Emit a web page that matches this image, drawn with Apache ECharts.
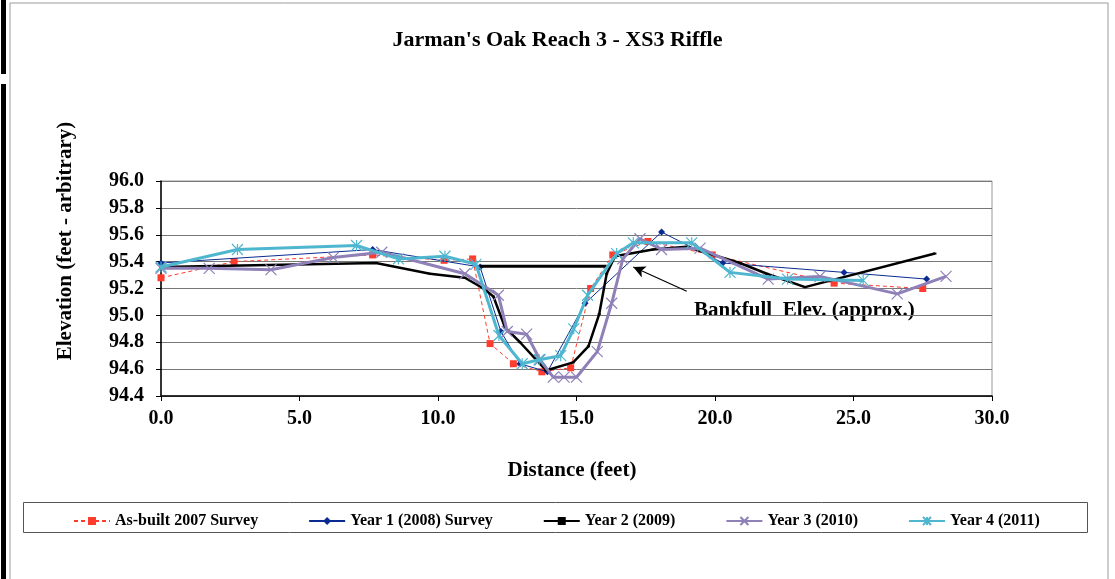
<!DOCTYPE html>
<html>
<head>
<meta charset="utf-8">
<script src="https://cdn.jsdelivr.net/npm/echarts@6/dist/echarts.min.js"></script>
<style>
  html, body { margin: 0; padding: 0; background: #fff; }
  #chart { width: 1115px; height: 579px; }
</style>
</head>
<body>
<div id="chart"></div>
<script>
// survey data (distance in feet, elevation in feet - arbitrary)
const asBuiltX = [0, 2.64, 7.64, 10.22, 11.25, 11.88, 12.72, 13.75, 14.79, 15.51, 16.31, 17.58, 19.9, 24.3, 27.5]
const asBuiltY = [95.28, 95.40, 95.45, 95.41, 95.42, 94.79, 94.64, 94.58, 94.61, 95.20, 95.45, 95.55, 95.45, 95.24, 95.20]

const year1X = [0, 7.64, 11.52, 12.27, 12.96, 13.95, 15.31, 18.07, 20.28, 24.66, 27.64]
const year1Y = [95.39, 95.49, 95.36, 94.88, 94.64, 94.58, 95.09, 95.62, 95.39, 95.32, 95.27]

const year2X = [0, 7.76, 9.71, 10.97, 11.64, 12.0, 12.42, 12.96, 13.9, 14.88, 15.43, 15.82, 16.09, 16.39, 17.76, 18.98, 20.9, 21.87, 23.25, 27.94]
const year2Y = [95.36, 95.39, 95.31, 95.28, 95.2, 95.14, 94.91, 94.80, 94.59, 94.65, 94.77, 95.01, 95.31, 95.44, 95.49, 95.51, 95.39, 95.31, 95.21, 95.46]

const year3X = [0, 1.74, 3.97, 6.22, 7.97, 10.97, 12.18, 12.5, 13.2, 13.68, 14.16, 14.55, 15.0, 15.75, 16.27, 16.67, 17.29, 18.07, 19.46, 21.92, 23.79, 26.58, 28.34]
const year3Y = [95.35, 95.35, 95.34, 95.43, 95.47, 95.31, 95.15, 94.88, 94.86, 94.67, 94.54, 94.54, 94.54, 94.73, 95.09, 95.42, 95.57, 95.49, 95.50, 95.27, 95.29, 95.16, 95.29]

const year4X = [0, 2.76, 7.06, 8.57, 10.25, 11.37, 12.2, 13.04, 13.65, 14.43, 14.9, 15.4, 16.45, 17.05, 19.16, 20.54, 22.62, 25.35]
const year4Y = [95.36, 95.49, 95.52, 95.42, 95.44, 95.38, 94.85, 94.64, 94.67, 94.70, 94.90, 95.15, 95.46, 95.54, 95.54, 95.32, 95.27, 95.26]

// bankfull elevation line and its arrow (from label to line)
const bankfullX = [11.52, 16.09]
const bankfullY = [95.365, 95.365]
const arrowFrom = [18.98, 95.18]
const arrowTo = [17.05, 95.36]

const seriesNames = ['As-built 2007 Survey', 'Year 1 (2008) Survey', 'Year 2 (2009)', 'Year 3 (2010)', 'Year 4 (2011)']

const FONT = 'Liberation Serif'
const pairs = (xs, ys) => xs.map((x, i) => [x, ys[i]])

const xMark = 'path://M0,0L10,10M10,0L0,10'
const starMark = 'path://M5,0L5,10M0,0L10,10M10,0L0,10'

const chart = echarts.init(document.getElementById('chart'))

const option = {
  animation: false,
  backgroundColor: '#fff',
  title: {
    text: "Jarman's Oak Reach 3 - XS3 Riffle",
    left: 'center',
    top: 24,
    textStyle: { fontFamily: FONT, fontWeight: 'bold', fontSize: 22, color: '#000' }
  },
  legend: {
    data: seriesNames,
    left: 68,
    top: 508,
    itemGap: 50,
    itemWidth: 36,
    itemHeight: 10,
    textStyle: { fontFamily: FONT, fontWeight: 'bold', fontSize: 16, color: '#000' }
  },
  grid: {
    left: 161,
    right: 123,
    top: 181,
    bottom: 183,
    show: true,
    borderColor: '#9a9a9a',
    borderWidth: 1
  },
  xAxis: {
    type: 'value',
    min: 0,
    max: 30,
    interval: 5,
    axisLine: { lineStyle: { color: '#000', width: 1.5 } },
    axisTick: { show: true, length: 5, lineStyle: { color: '#000' } },
    splitLine: { show: false },
    axisLabel: {
      margin: 13,
      fontFamily: FONT,
      fontWeight: 'bold',
      fontSize: 20,
      color: '#000',
      formatter: v => v.toFixed(1)
    }
  },
  yAxis: {
    type: 'value',
    min: 94.4,
    max: 96.0,
    interval: 0.2,
    axisLine: { show: true, lineStyle: { color: '#000', width: 1.5 } },
    axisTick: { show: true, length: 5, lineStyle: { color: '#000' } },
    splitLine: { show: true, lineStyle: { color: '#777', width: 1 } },
    axisLabel: {
      margin: 17,
      fontFamily: FONT,
      fontWeight: 'bold',
      fontSize: 20,
      color: '#000',
      formatter: v => v.toFixed(1)
    }
  },
  graphic: [
    // outer frame
    { type: 'rect', shape: { x: 10, y: 3, width: 1098, height: 590 }, style: { fill: 'none', stroke: '#9a9a9a', lineWidth: 1 }, silent: true },
    { type: 'rect', shape: { x: 1, y: 0, width: 5, height: 74 }, style: { fill: '#000' }, silent: true },
    { type: 'rect', shape: { x: 1, y: 84, width: 5, height: 495 }, style: { fill: '#000' }, silent: true },
    // legend box
    { type: 'rect', shape: { x: 23.5, y: 502.5, width: 1064, height: 30 }, style: { fill: 'none', stroke: '#555', lineWidth: 1 }, silent: true, z: -1 },
    // axis names
    {
      type: 'text', x: 66, y: 241, rotation: Math.PI / 2,
      style: { text: 'Elevation (feet - arbitrary)', fontFamily: FONT, fontWeight: 'bold', fontSize: 21, fill: '#000', align: 'center', verticalAlign: 'middle' }
    },
    {
      type: 'text', x: 572, y: 471,
      style: { text: 'Distance (feet)', fontFamily: FONT, fontWeight: 'bold', fontSize: 21, fill: '#000', align: 'center', verticalAlign: 'middle' }
    },
    // annotation
    {
      type: 'text', x: 694, y: 311,
      style: { text: 'Bankfull  Elev. (approx.)', fontFamily: FONT, fontWeight: 'bold', fontSize: 21, fill: '#000', align: 'left', verticalAlign: 'middle' }
    }
  ],
  series: [
    {
      name: seriesNames[0],
      type: 'line',
      data: pairs(asBuiltX, asBuiltY),
      symbol: 'rect',
      symbolSize: 7,
      lineStyle: { color: '#ff3c2e', width: 1, type: [4, 3] },
      itemStyle: { color: '#ff3c2e' },
      z: 2
    },
    {
      name: seriesNames[1],
      type: 'line',
      data: pairs(year1X, year1Y),
      symbol: 'diamond',
      symbolSize: 7,
      lineStyle: { color: '#0a2c92', width: 1 },
      itemStyle: { color: '#0a2c92' },
      z: 3
    },
    {
      name: seriesNames[2],
      type: 'line',
      data: pairs(year2X, year2Y),
      symbol: 'rect',
      symbolSize: [3, 2],
      lineStyle: { color: '#000', width: 2.5 },
      itemStyle: { color: '#000' },
      z: 4
    },
    {
      name: seriesNames[3],
      type: 'line',
      data: pairs(year3X, year3Y),
      symbol: xMark,
      symbolSize: 11,
      lineStyle: { color: '#8f80b8', width: 3 },
      itemStyle: { color: '#8f80b8', borderColor: '#8f80b8', borderWidth: 1.2 },
      z: 5
    },
    {
      name: seriesNames[4],
      type: 'line',
      data: pairs(year4X, year4Y),
      symbol: starMark,
      symbolSize: 11,
      lineStyle: { color: '#4fb6cf', width: 3 },
      itemStyle: { color: '#4fb6cf', borderColor: '#4fb6cf', borderWidth: 1.2 },
      z: 6
    },
    {
      name: 'Bankfull',
      type: 'line',
      data: pairs(bankfullX, bankfullY),
      symbol: 'none',
      lineStyle: { color: '#000', width: 3 },
      z: 4,
      markLine: {
        silent: true,
        symbol: ['none', 'arrow'],
        symbolSize: [9, 12],
        label: { show: false },
        lineStyle: { color: '#000', width: 1.2, type: 'solid' },
        data: [[{ coord: arrowFrom }, { coord: arrowTo }]]
      }
    }
  ]
}

chart.setOption(option)
</script>
</body>
</html>
